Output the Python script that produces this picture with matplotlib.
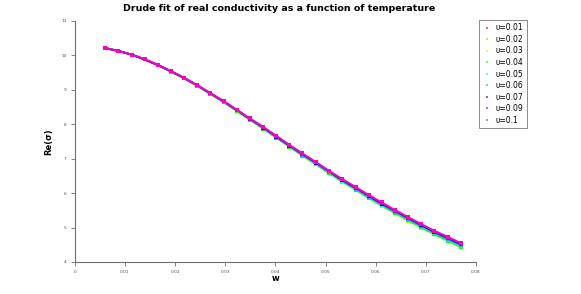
import matplotlib
matplotlib.use("Agg")
import matplotlib.pyplot as plt
import numpy as np

w = [0.0060, 0.0086, 0.0113, 0.0139, 0.0165, 0.0191, 0.0218, 0.0244, 0.0270, 0.0297,
     0.0323, 0.0349, 0.0376, 0.0402, 0.0428, 0.0454, 0.0481, 0.0507, 0.0533, 0.0560,
     0.0586, 0.0612, 0.0639, 0.0665, 0.0691, 0.0717, 0.0744, 0.0770]

labels = ["υ=0.01", "υ=0.02", "υ=0.03", "υ=0.04", "υ=0.05", "υ=0.06", "υ=0.07", "υ=0.09", "υ=0.1"]

s001 = [10.21, 10.13, 10.02, 9.88, 9.72, 9.54, 9.33, 9.12, 8.88, 8.64, 8.39, 8.14, 7.88, 7.62,
        7.36, 7.10, 6.85, 6.60, 6.35, 6.11, 5.88, 5.65, 5.44, 5.23, 5.02, 4.83, 4.64, 4.46]
s002 = [10.21, 10.13, 10.02, 9.88, 9.72, 9.53, 9.33, 9.11, 8.88, 8.64, 8.39, 8.13, 7.88, 7.61,
        7.35, 7.10, 6.84, 6.59, 6.34, 6.11, 5.87, 5.65, 5.43, 5.22, 5.01, 4.82, 4.63, 4.45]
s003 = [10.21, 10.13, 10.02, 9.88, 9.72, 9.53, 9.33, 9.11, 8.88, 8.64, 8.38, 8.13, 7.87, 7.60,
        7.34, 7.08, 6.83, 6.58, 6.33, 6.09, 5.86, 5.63, 5.41, 5.20, 5.00, 4.80, 4.61, 4.43]
s004 = [10.21, 10.13, 10.02, 9.88, 9.72, 9.53, 9.33, 9.11, 8.88, 8.64, 8.39, 8.13, 7.87, 7.61,
        7.35, 7.09, 6.84, 6.58, 6.34, 6.10, 5.86, 5.64, 5.42, 5.21, 5.01, 4.81, 4.62, 4.44]
s005 = [10.21, 10.13, 10.02, 9.88, 9.72, 9.54, 9.34, 9.12, 8.89, 8.65, 8.40, 8.14, 7.88, 7.62,
        7.36, 7.11, 6.85, 6.60, 6.36, 6.12, 5.89, 5.66, 5.45, 5.24, 5.03, 4.84, 4.65, 4.47]
s006 = [10.21, 10.13, 10.02, 9.88, 9.72, 9.54, 9.34, 9.12, 8.89, 8.65, 8.40, 8.15, 7.89, 7.63,
        7.37, 7.12, 6.86, 6.61, 6.37, 6.13, 5.90, 5.68, 5.46, 5.25, 5.05, 4.86, 4.67, 4.49]
s007 = [10.21, 10.13, 10.02, 9.88, 9.72, 9.54, 9.34, 9.13, 8.90, 8.66, 8.41, 8.16, 7.90, 7.64,
        7.38, 7.13, 6.88, 6.63, 6.38, 6.15, 5.92, 5.69, 5.48, 5.27, 5.07, 4.87, 4.69, 4.51]
s009 = [10.21, 10.13, 10.02, 9.88, 9.72, 9.54, 9.34, 9.13, 8.90, 8.66, 8.42, 8.16, 7.91, 7.65,
        7.39, 7.14, 6.89, 6.64, 6.40, 6.16, 5.93, 5.71, 5.49, 5.29, 5.09, 4.89, 4.71, 4.53]
s010 = [10.21, 10.13, 10.02, 9.89, 9.73, 9.55, 9.35, 9.13, 8.91, 8.67, 8.42, 8.17, 7.92, 7.66,
        7.40, 7.15, 6.90, 6.65, 6.41, 6.18, 5.95, 5.73, 5.51, 5.30, 5.10, 4.91, 4.73, 4.55]

series = [s001, s002, s003, s004, s005, s006, s007, s009, s010]

fig = plt.figure(figsize=(5.81, 2.94), dpi=100)
ax = fig.add_axes([0.129, 0.109, 0.690, 0.820])

cmap = plt.get_cmap("hsv")
n = len(series)
for i, ys in enumerate(series):
    col = cmap(i / n)
    ax.plot(w, ys, "-", color=col, lw=1.3, zorder=2)
for i, (ys, lab) in enumerate(zip(series, labels)):
    col = cmap(i / n)
    ax.plot(w, ys, linestyle="none", marker="s", ms=2.2, mew=0, color=col, label=lab, zorder=3)

ax.set_xlim(0, 0.08)
ax.set_ylim(4, 11)
ax.set_xticks([0, 0.01, 0.02, 0.03, 0.04, 0.05, 0.06, 0.07, 0.08])
ax.set_xticklabels(["0", "0.01", "0.02", "0.03", "0.04", "0.05", "0.06", "0.07", "0.08"])
ax.set_yticks([4, 5, 6, 7, 8, 9, 10, 11])

for side in ["top", "right"]:
    ax.spines[side].set_visible(False)
for side in ["left", "bottom"]:
    ax.spines[side].set_color("#707070")
    ax.spines[side].set_linewidth(0.8)
ax.tick_params(direction="out", length=3, width=0.6, colors="#707070", labelsize=3.2,
               labelcolor="#555555", pad=3)

ax.set_xlabel("w", fontsize=6, fontweight="bold", labelpad=0)
ax.set_ylabel("Re(σ)", fontsize=6, fontweight="bold", labelpad=6)
fig.suptitle("Drude fit of real conductivity as a function of temperature",
             fontsize=6.8, fontweight="bold", x=0.481, y=0.985)

leg = ax.legend(loc="upper left", bbox_to_anchor=(1.005, 1.01), fontsize=5.5,
                frameon=True, fancybox=False, edgecolor="#555555", handlelength=1.2,
                handletextpad=0.5, labelspacing=0.33, borderpad=0.45, markerscale=0.7,
                borderaxespad=0.2)
leg.get_frame().set_linewidth(0.6)
for h in leg.legend_handles:
    h.set_alpha(0.6)

fig.savefig("out.png", dpi=100)
